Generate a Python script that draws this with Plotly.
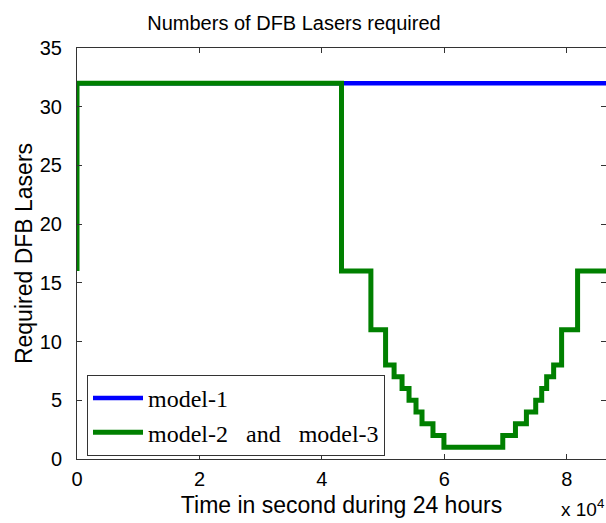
import plotly.graph_objects as go

# ---- data ----
t_model1 = [0, 86400]
y_model1 = [32, 32]

t_model23 = [0, 0, 43200, 48000, 50400, 51790, 53090, 54230, 55370, 56350, 58140,
             59930, 69540, 71610, 73400, 74920, 75900, 76710, 77850, 79150, 81760, 86400]
y_model23 = [16, 32, 16, 11, 8, 7, 6, 5, 4, 3, 2,
             1, 2, 3, 4, 5, 6, 7, 8, 11, 16, 16]

x_tickvals = [0, 20000, 40000, 60000, 80000]
x_ticktext = ["0", "2", "4", "6", "8"]
y_tickvals = [0, 5, 10, 15, 20, 25, 30, 35]

W, H = 606, 523
L, R, T, B = 77, 0, 48, 523 - 459
pw, ph = W - L - R, H - T - B

fig = go.Figure()
fig.add_trace(go.Scatter(x=t_model1, y=y_model1, mode="lines", name="model-1",
                         line=dict(color="#0000ff", width=4.5, shape="hv")))
fig.add_trace(go.Scatter(x=t_model23, y=y_model23, mode="lines",
                         name="model-2\u00a0\u00a0\u00a0and\u00a0\u00a0\u00a0model-3",
                         line=dict(color="#008000", width=5, shape="hv")))

axis_common = dict(showgrid=False, zeroline=False, showline=True, linecolor="#333333",
                   linewidth=1, mirror="ticks", ticks="inside", ticklen=5,
                   tickcolor="#333333", automargin=False,
                   tickfont=dict(family="Liberation Sans, Arial", size=20, color="black"))

fig.update_xaxes(range=[0, 86400], tickvals=x_tickvals, ticktext=x_ticktext,
                 title=dict(text="Time in second during 24 hours",
                            font=dict(family="Liberation Sans, Arial", size=23, color="black"),
                            standoff=7),
                 ticklabelstandoff=2,
                 **axis_common)
fig.update_yaxes(range=[0, 35], tickvals=y_tickvals,
                 title=dict(text="Required DFB Lasers",
                            font=dict(family="Liberation Sans, Arial", size=23, color="black"),
                            standoff=0),
                 ticklabelstandoff=10,
                 **axis_common)

fig.update_layout(
    width=W, height=H,
    margin=dict(l=L, r=R, t=T, b=B, pad=0, autoexpand=False),
    plot_bgcolor="white", paper_bgcolor="white",
    title=dict(text="Numbers of DFB Lasers required", x=294 / W, xanchor="center",
               y=1 - 23 / H, yanchor="middle",
               font=dict(family="Liberation Sans, Arial", size=20, color="black")),
    legend=dict(x=(87 - L) / pw, y=(459 - 375) / ph, xanchor="left", yanchor="top",
                bgcolor="white", bordercolor="#333333", borderwidth=1,
                font=dict(family="Liberation Serif, Times New Roman", size=24, color="black"),
                tracegroupgap=0, itemwidth=50),
    showlegend=True,
    annotations=[dict(text="x 10<sup>4</sup>", xref="paper", yref="paper",
                      x=1.0, y=(459 - 522) / ph, xanchor="right", yanchor="bottom",
                      showarrow=False,
                      font=dict(family="Liberation Sans, Arial", size=19, color="black"))],
)

# remove the default 8px page margin so the 606x523 figure fills the window exactly
fig.write_html("out.html", config={"displayModeBar": False},
               post_script="document.body.style.margin='0';document.body.style.overflow='hidden';")
